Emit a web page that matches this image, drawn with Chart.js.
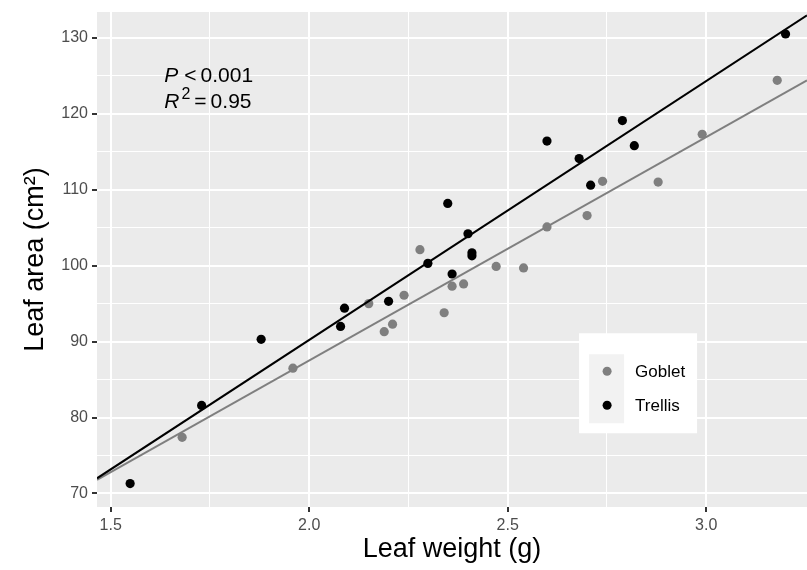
<!DOCTYPE html>
<html>
<head>
<meta charset="utf-8">
<script src="https://cdn.jsdelivr.net/npm/chart.js@4"></script>
<style>
  html, body { margin: 0; padding: 0; background: #fff; }
  #wrap { width: 807px; height: 570px; }
</style>
</head>
<body>
<div id="wrap"><canvas id="leafChart" width="807" height="570"></canvas></div>
<script>
// Data
var gobletWeight = [1.68, 1.959, 2.15, 2.189, 2.21, 2.239, 2.279, 2.34, 2.36, 2.389, 2.471, 2.54, 2.599, 2.70, 2.739, 2.879, 2.99, 3.179];
var gobletArea   = [77.4, 86.5, 95.0, 91.3, 92.3, 96.1, 102.1, 93.8, 97.3, 97.6, 99.9, 99.7, 105.1, 106.6, 111.1, 111.0, 117.3, 124.4];

var trellisWeight = [1.549, 1.729, 1.879, 2.079, 2.089, 2.2, 2.299, 2.349, 2.36, 2.4, 2.41, 2.41, 2.599, 2.68, 2.709, 2.789, 2.819, 3.2];
var trellisArea   = [71.3, 81.6, 90.3, 92.0, 94.4, 95.3, 100.3, 108.2, 98.9, 104.2, 101.7, 101.3, 116.4, 114.1, 110.6, 119.1, 115.8, 130.5];

// regression lines (end points at the panel edges)
var fitWeight  = [1.4655, 3.254];
var gobletFit  = [71.8, 124.4];
var trellisFit = [72.0, 132.95];

var seriesNames = ["Goblet", "Trellis"];
var seriesColors = ["#7f7f7f", "#000000"];

var xTicks = [1.5, 2.0, 2.5, 3.0];
var xTickLabels = ["1.5", "2.0", "2.5", "3.0"];
var xMinor = [1.75, 2.25, 2.75];
var yTicks = [70, 80, 90, 100, 110, 120, 130];
var yMinor = [75, 85, 95, 105, 115, 125];

function toPoints(xs, ys) {
  return xs.map(function (x, i) { return { x: x, y: ys[i] }; });
}

function isMajor(list, v) {
  return list.some(function (m) { return Math.abs(m - v) < 1e-6; });
}

// grey panel like ggplot
var panelBg = {
  id: "panelBg",
  beforeDraw: function (chart) {
    var a = chart.chartArea, ctx = chart.ctx;
    ctx.save();
    ctx.fillStyle = "#ebebeb";
    ctx.fillRect(a.left, a.top, a.right - a.left, a.bottom - a.top);
    ctx.restore();
  }
};

// P and R^2 text + legend box
var extras = {
  id: "extras",
  afterDraw: function (chart) {
    var ctx = chart.ctx, xs = chart.scales.x, ys = chart.scales.y;
    var x0 = xs.getPixelForValue(1.635);
    var y0 = ys.getPixelForValue(124.2);
    ctx.save();
    ctx.fillStyle = "#000";
    ctx.textBaseline = "alphabetic";
    ctx.textAlign = "left";
    var norm = "21px 'Liberation Sans', Arial, sans-serif";
    var ital = "italic 21px 'Liberation Sans', Arial, sans-serif";

    // line 1: P < 0.001
    ctx.font = ital;
    ctx.fillText("P", x0, y0);
    var cx = x0 + ctx.measureText("P").width + 6;
    ctx.font = norm;
    ctx.fillText("<", cx, y0);
    cx += ctx.measureText("<").width + 4;
    ctx.fillText("0.001", cx, y0);

    // line 2: R^2 = 0.95
    var y1 = y0 + 26.5;
    ctx.font = ital;
    ctx.fillText("R", x0, y1);
    cx = x0 + ctx.measureText("R").width + 2;
    ctx.font = "16px 'Liberation Sans', Arial, sans-serif";
    ctx.fillText("2", cx, y1 - 9);
    cx += ctx.measureText("2").width + 4;
    ctx.font = norm;
    ctx.fillText("=", cx, y1);
    cx += ctx.measureText("=").width + 4;
    ctx.fillText("0.95", cx, y1);

    // legend
    var a = chart.chartArea;
    var bx = a.left + 0.679 * (a.right - a.left);
    var by = a.top + 0.649 * (a.bottom - a.top);
    ctx.fillStyle = "#ffffff";
    ctx.fillRect(bx, by, 118, 100);
    ctx.fillStyle = "#f2f2f2";
    ctx.fillRect(bx + 10, by + 21, 35, 69);
    ctx.font = "17px 'Liberation Sans', Arial, sans-serif";
    ctx.textBaseline = "middle";
    for (var i = 0; i < seriesNames.length; i++) {
      var ky = by + 38 + i * 34;
      ctx.fillStyle = seriesColors[i];
      ctx.beginPath();
      ctx.arc(bx + 28, ky, 4.5, 0, Math.PI * 2);
      ctx.fill();
      ctx.fillStyle = "#000";
      ctx.fillText(seriesNames[i], bx + 56, ky + 1);
    }
    ctx.restore();
  }
};

function gridColor() { return "#ffffff"; }

var ctxLeaf = document.getElementById("leafChart").getContext("2d");

var leafChart = new Chart(ctxLeaf, {
  type: "scatter",
  data: {
    datasets: [
      {
        label: "Trellis fit",
        data: toPoints(fitWeight, trellisFit),
        showLine: true,
        borderColor: seriesColors[1],
        borderWidth: 2,
        pointRadius: 0,
      },
      {
        label: "Goblet fit",
        data: toPoints(fitWeight, gobletFit),
        showLine: true,
        borderColor: seriesColors[0],
        borderWidth: 2,
        pointRadius: 0,
      },
      {
        label: seriesNames[1],
        data: toPoints(trellisWeight, trellisArea),
        backgroundColor: seriesColors[1],
        borderWidth: 0,
        pointRadius: 4.6,
      },
      {
        label: seriesNames[0],
        data: toPoints(gobletWeight, gobletArea),
        backgroundColor: seriesColors[0],
        borderWidth: 0,
        pointRadius: 4.6,
      },
    ],
  },
  options: {
    responsive: false,
    animation: false,
    events: [],
    layout: { autoPadding: false, padding: { top: 12, right: 0, left: 0, bottom: 0 } },
    plugins: {
      legend: { display: false },
      tooltip: { enabled: false },
    },
    scales: {
      x: {
        type: "linear",
        min: fitWeight[0],
        max: fitWeight[1],
        afterBuildTicks: function (scale) {
          scale.ticks = xTicks.concat(xMinor).sort(function (a, b) { return a - b; })
            .map(function (v) { return { value: v }; });
        },
        afterFit: function (scale) {
          scale.height = 63;
          scale.paddingLeft = 0;
          scale.paddingRight = 0;
        },
        border: { display: false },
        grid: {
          color: gridColor,
          lineWidth: function (c) { return isMajor(xTicks, c.tick.value) ? 2 : 1; },
          tickColor: function (c) { return isMajor(xTicks, c.tick.value) ? "#333333" : "rgba(0,0,0,0)"; },
          tickWidth: 2,
          tickLength: 5,
        },
        ticks: {
          autoSkip: false,
          maxRotation: 0,
          padding: 4,
          color: "#4d4d4d",
          font: { family: "'Liberation Sans', Arial, sans-serif", size: 16 },
          callback: function (v) {
            var i = xTicks.findIndex(function (m) { return Math.abs(m - v) < 1e-6; });
            return i >= 0 ? xTickLabels[i] : "";
          },
        },
        title: {
          display: true,
          text: "Leaf weight (g)",
          color: "#000",
          font: { family: "'Liberation Sans', Arial, sans-serif", size: 27 },
          padding: { top: 0, bottom: 4 },
        },
      },
      y: {
        type: "linear",
        min: 68.22,
        max: 133.4,
        afterBuildTicks: function (scale) {
          scale.ticks = yTicks.concat(yMinor).sort(function (a, b) { return a - b; })
            .map(function (v) { return { value: v }; });
        },
        afterFit: function (scale) {
          scale.width = 97;
          scale.paddingTop = 0;
          scale.paddingBottom = 0;
        },
        border: { display: false },
        grid: {
          color: gridColor,
          lineWidth: function (c) { return isMajor(yTicks, c.tick.value) ? 2 : 1; },
          tickColor: function (c) { return isMajor(yTicks, c.tick.value) ? "#333333" : "rgba(0,0,0,0)"; },
          tickWidth: 2,
          tickLength: 5,
        },
        ticks: {
          autoSkip: false,
          padding: 4,
          color: "#4d4d4d",
          font: { family: "'Liberation Sans', Arial, sans-serif", size: 16 },
          callback: function (v) {
            return isMajor(yTicks, v) ? String(v) : "";
          },
        },
        title: {
          display: true,
          text: "Leaf area (cm²)",
          color: "#000",
          font: { family: "'Liberation Sans', Arial, sans-serif", size: 27 },
          padding: { top: 19, bottom: 0 },
        },
      },
    },
  },
  plugins: [panelBg, extras],
});
</script>
</body>
</html>
